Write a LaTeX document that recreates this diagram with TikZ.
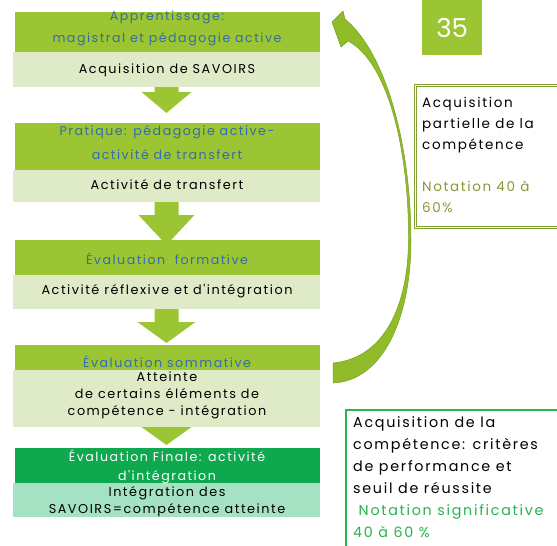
\documentclass[tikz,border=0pt]{standalone}
\usepackage{fontspec}
\setmainfont{Poppins}
\newfontfamily\wfont{Poppins}[LetterSpace=12]
\usetikzlibrary{calc}
\definecolor{lime}{RGB}{155,197,50}
\definecolor{limelight}{RGB}{222,235,198}
\definecolor{dgreen}{RGB}{14,168,78}
\definecolor{dgreenlight}{RGB}{165,226,195}
\definecolor{titleblue}{RGB}{52,108,170}
\definecolor{frameolive}{RGB}{128,160,48}
\definecolor{notolive}{RGB}{140,150,55}
\definecolor{fgreen}{RGB}{40,180,80}
\definecolor{arrowfill}{RGB}{145,188,42}
\definecolor{arrowedge}{RGB}{120,160,35}
\begin{document}
\begin{tikzpicture}[x=1pt,y=-1pt,
  box/.style={draw=none, inner sep=0pt, outer sep=0pt, minimum width=305pt, anchor=north west},
  darkbox/.style={box, fill=lime},
  lightbox/.style={box, fill=limelight},
  fdark/.style={box, fill=dgreen},
  flight/.style={box, fill=dgreenlight},
  ttl/.style={align=center, text=titleblue, font=\wfont\fontsize{12.6}{22}\selectfont, inner sep=0pt},
  body/.style={align=center, text=black, font=\wfont\fontsize{12.8}{17}\selectfont, inner sep=0pt},
  blockarrow/.style={fill=lime, draw=none},
  sidetext/.style={align=left, inner sep=0pt, anchor=north west}
]
\useasboundingbox (0,0) rectangle (557,546);

% boxes
\node[darkbox, minimum height=40pt] (d1) at (15,12) {};
\node[lightbox, minimum height=35pt, minimum width=307pt] (l1) at (13,52) {};
\node[darkbox, minimum height=47pt] (d2) at (15,123) {};
\node[lightbox, minimum height=32pt, minimum width=307pt] (l2) at (13,170) {};
\node[darkbox, minimum height=35pt] (d3) at (15,240) {};
\node[lightbox, minimum height=34pt, minimum width=307pt] (l3) at (13,275) {};
\node[darkbox, minimum height=25pt] (d4) at (15,345) {};
\node[lightbox, minimum height=57pt, minimum width=307pt] (l4) at (13,370) {};
\node[fdark, minimum height=35pt] (d5) at (15,448) {};
\node[flight, minimum height=34pt, minimum width=307pt] (l5) at (13,483) {};

% block arrows
\fill[blockarrow] ([shift={(-12,0)}]l1.south) -- ([shift={(12,0)}]l1.south) -- ([shift={(12,5)}]l1.south) -- ([shift={(25,5)}]l1.south) -- ([shift={(0,26)}]l1.south) -- ([shift={(-25,5)}]l1.south) -- ([shift={(-12,5)}]l1.south) -- cycle;
\fill[blockarrow] ([shift={(-12,0)}]l2.south) -- ([shift={(12,0)}]l2.south) -- ([shift={(12,13)}]l2.south) -- ([shift={(28,13)}]l2.south) -- ([shift={(0,43)}]l2.south) -- ([shift={(-28,13)}]l2.south) -- ([shift={(-12,13)}]l2.south) -- cycle;
\fill[blockarrow] ([shift={(-12,0)}]l3.south) -- ([shift={(12,0)}]l3.south) -- ([shift={(12,13)}]l3.south) -- ([shift={(29,13)}]l3.south) -- ([shift={(0,34)}]l3.south) -- ([shift={(-29,13)}]l3.south) -- ([shift={(-12,13)}]l3.south) -- cycle;
\fill[blockarrow] ([shift={(-25,0)}]l4.south) -- ([shift={(25,0)}]l4.south) -- ([shift={(0,18)}]l4.south) -- cycle;

% texts in boxes
\node[ttl] (t1) at (167,28) {Apprentissage:\\magistral et pédagogie active};
\node[body] (s1) at (167,70) {Acquisition de SAVOIRS};
\node[ttl, font=\wfont\fontsize{12.6}{24}\selectfont] (t2) at (167,143) {Pratique: pédagogie active-\\activité de transfert};
\node[body] (s2) at (167,185) {Activité de transfert};
\node[ttl] (t3) at (167,259) {Évaluation\ \ formative};
\node[body] (s3) at (167,291) {Activité réflexive et d'intégration};
\node[ttl] (t4) at (167,362) {Évaluation sommative};
\node[body] (s4) at (167,395) {Atteinte\\de certains éléments de\\compétence - intégration};
\node[ttl, text=white, font=\wfont\fontsize{12.6}{19}\selectfont] (t5) at (167,466.5) {Évaluation Finale: activité\\d'intégration};
\node[body] (s5) at (167,501.5) {Intégration des\\SAVOIRS=compétence atteinte};

% page number box
\node[fill=lime, minimum width=60pt, minimum height=55pt, anchor=north west, inner sep=0pt, text=white, font=\fontsize{26}{26}\selectfont] (num) at (422,0) {35};

% side frames
\node[draw=frameolive, double=white, double distance=1pt, line width=0.8pt, fill=white, anchor=north west, minimum width=170pt, minimum height=142pt, inner sep=0pt] (f1) at (415,85) {};
\node[sidetext, font=\wfont\fontsize{13.5}{21}\selectfont] (f1t) at (422,97) {Acquisition\\partielle de la\\compétence\\[21pt]\textcolor{notolive}{Notation 40 à}\\\textcolor{notolive}{60\%}};

\node[draw=fgreen, line width=1.6pt, fill=white, anchor=north west, minimum width=230pt, minimum height=160pt, inner sep=0pt] (f2) at (345,409) {};
\node[sidetext, font=\wfont\fontsize{14.3}{22}\selectfont] (f2t) at (353,416) {Acquisition de la\\compétence: critères\\de performance et\\seuil de réussite\\\textcolor{fgreen}{\ Notation significative}\\\textcolor{fgreen}{40 à 60 \%}};

% curved return arrow
\coordinate (cstart) at (333,373);
\coordinate (ctip) at (332,22);
\filldraw[fill=arrowfill, draw=arrowedge, line width=0.5pt, line join=round] (333,383) .. controls (382,381) and (411,320) .. (411,240) .. controls (411,150) and (388,55) .. (345,19)
  -- (343,11) -- (ctip) -- (341,47) -- (348,41)
  .. controls (388,62) and (409,150) .. (408.5,240) .. controls (408,305) and (385,358) .. (333,363) -- cycle;
\end{tikzpicture}
\end{document}
